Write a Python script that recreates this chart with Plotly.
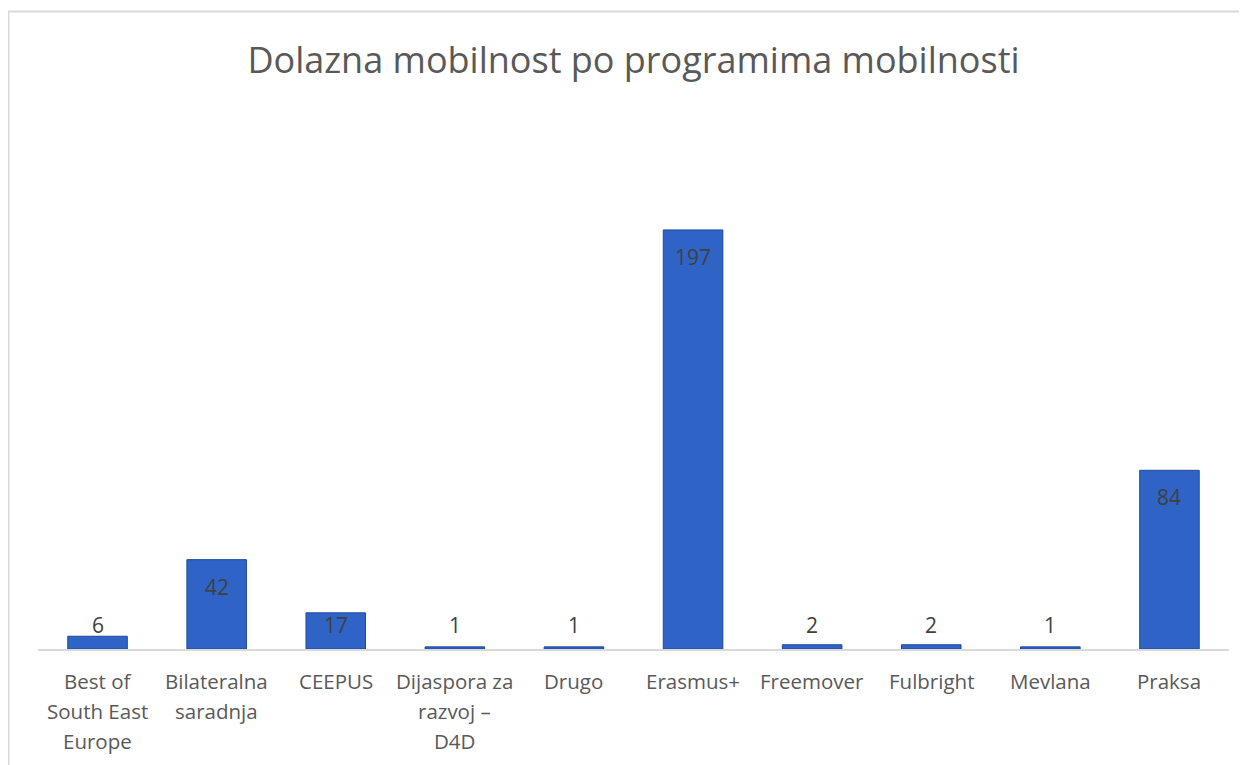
import plotly.graph_objects as go

categories = ["Best of<br>South East<br>Europe", "Bilateralna<br>saradnja", "CEEPUS",
              "Dijaspora za<br>razvoj –<br>D4D", "Drugo", "Erasmus+", "Freemover",
              "Fulbright", "Mevlana", "Praksa"]
values = [6, 42, 17, 1, 1, 197, 2, 2, 1, 84]
title_text = "Dolazna mobilnost po programima mobilnosti"

OFF = 8  # page body margin
W, H = 1247 - OFF, 765 - OFF
L, R, T, B = 38 - OFF, 1229 - OFF, 181 - OFF, 649 - OFF
YMAX = 220

def px(x):
    return (x - OFF - L) / (R - L)

def py(y):
    return (B - (y - OFF)) / (B - T)

FONT = "Open Sans"

fig = go.Figure()
fig.add_trace(go.Bar(
    x=categories, y=values, width=0.5,
    marker=dict(color="#2f64c6", line=dict(color="#1d4a9e", width=1)),
    hoverinfo="y",
))

off_top = 27 * YMAX / (B - T)
min_lab = 24 * YMAX / (B - T)
for c, v in zip(categories, values):
    fig.add_annotation(x=c, y=max(v - off_top, min_lab), text=str(v), showarrow=False,
                       yanchor="middle", xanchor="center",
                       font=dict(family=FONT, size=21, color="#404040"))

# category labels, one annotation per line (wider line spacing than tick labels)
for c in categories:
    for i, line in enumerate(c.split("<br>")):
        fig.add_annotation(x=c, y=0, text=line, showarrow=False,
                           yanchor="middle", xanchor="center", yshift=-32 - 30 * i,
                           font=dict(family=FONT, size=20.5, color="#595959"))

fig.update_layout(
    width=W, height=H,
    margin=dict(l=L, r=W - R, t=T, b=H - B),
    paper_bgcolor="white", plot_bgcolor="white",
    showlegend=False,
    title=dict(text=title_text, x=0.5, xref="paper", y=1 - (60 - OFF) / H, yref="container",
               yanchor="middle", xanchor="center",
               font=dict(family=FONT, size=36, color="#595959")),
    xaxis=dict(showline=True, linecolor="#d9d9d9", linewidth=2, ticks="",
               showgrid=False, showticklabels=False, fixedrange=True),
    yaxis=dict(range=[0, YMAX], visible=False, showgrid=False, fixedrange=True),
    shapes=[
        dict(type="line", xref="paper", yref="paper", x0=px(8), x1=px(1252), y0=py(11.5), y1=py(11.5),
             line=dict(color="#d9d9d9", width=2)),
        dict(type="line", xref="paper", yref="paper", x0=px(8.5), x1=px(8.5), y0=py(11.5), y1=py(770),
             line=dict(color="#d9d9d9", width=2)),
    ],
)

fig.write_html("out.html")
